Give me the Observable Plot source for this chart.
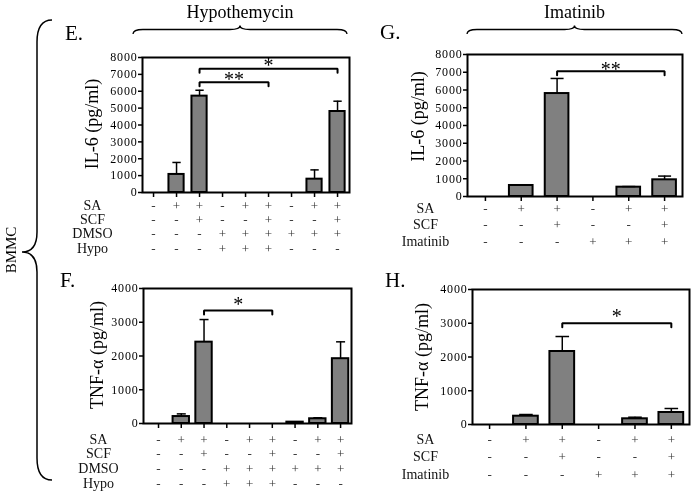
<!DOCTYPE html>
<html>
<head>
<meta charset="utf-8">
<script src="https://cdn.jsdelivr.net/npm/d3@7"></script>
<script src="https://cdn.jsdelivr.net/npm/@observablehq/plot@0.6"></script>
<style>
  html, body { margin: 0; padding: 0; background: #fff; }
  #chart { position: relative; width: 694px; height: 500px; background: #fff; font-family: "Liberation Serif", serif; }
  #chart > svg { position: absolute; will-change: transform; }
  #chart svg, #chart svg text { font-family: "Liberation Serif", "Times New Roman", serif !important; }
  [aria-label="y-axis tick label"] text { letter-spacing: 0.8px; }
</style>
</head>
<body>
<div id="chart"></div>
<script>
// ---------- data ----------
const hypoConditions = ["SA", "SCF", "DMSO", "Hypo"];
const hypoSA   = ["-", "+", "+", "-", "+", "+", "-", "+", "+"];
const hypoSCF  = ["-", "-", "+", "-", "-", "+", "-", "-", "+"];
const hypoDMSO = ["-", "-", "-", "+", "+", "+", "+", "+", "+"];
const hypoHypo = ["-", "-", "-", "+", "+", "+", "-", "-", "-"];

const il6Hypo    = [0, 1070, 5710, 0, 0, 0, 0, 790, 4800];
const il6HypoErr = [0, 1780, 6060, 0, 0, 0, 0, 1340, 5410];
const tnfHypo    = [0, 206, 2410, 0, 0, 0, 40, 140, 1920];
const tnfHypoErr = [0, 285, 3080, 0, 0, 0, 50, 170, 2420];

const imaConditions = ["SA", "SCF", "Imatinib"];
const imaSA  = ["-", "+", "+", "-", "+", "+"];
const imaSCF = ["-", "-", "+", "-", "-", "+"];
const imaIma = ["-", "-", "-", "+", "+", "+"];

const il6Ima    = [0, 620, 5800, 0, 525, 940];
const il6ImaErr = [0, 640, 6650, 0, 560, 1150];
const tnfIma    = [0, 246, 2163, 0, 169, 356];
const tnfImaErr = [0, 296, 2607, 0, 216, 474];

const il6Ticks = [0, 1000, 2000, 3000, 4000, 5000, 6000, 7000, 8000];
const tnfTicks = [0, 1000, 2000, 3000, 4000];

const bracketsE = [{from: 3, to: 9, level: 7330, label: "*"}, {from: 3, to: 6, level: 6540, label: "**"}];
const bracketsF = [{from: 3, to: 6, level: 3350, label: "*"}];
const bracketsG = [{from: 3, to: 6, level: 7060, label: "**"}];
const bracketsH = [{from: 3, to: 6, level: 3000, label: "*"}];

const il6Label = "IL-6 (pg/ml)";
const tnfLabel = "TNF-\u03b1 (pg/ml)";

// ---------- panel builder ----------
function panel(o) {
  const data = o.values.map((v, k) => ({i: k + 1, v, e: o.errors[k]}));
  const idx = data.map(d => d.i);
  const ymax = o.ticks[o.ticks.length - 1];
  const plotH = o.height - o.mt - o.mb;
  const drop = 4 * ymax / plotH;
  const capHalf = o.barHalf * 0.55;
  const bracketPts = o.brackets.flatMap((b, j) => [
    {j, x: b.from, y: b.level - drop}, {j, x: b.from, y: b.level},
    {j, x: b.to, y: b.level}, {j, x: b.to, y: b.level - drop}
  ]);
  const rowMarks = o.conditions.flatMap((c, r) => [
    Plot.text(o.signs[r].map((s, k) => ({i: k + 1, s})), {
      x: "i", text: "s", frameAnchor: "bottom", dy: o.rowDy0 + r * o.rowStep,
      fontSize: 13, fill: "#333"
    }),
    Plot.text([c], {
      frameAnchor: "bottom-left", dx: o.rowLabelDx, dy: o.rowDy0 + r * o.rowStep,
      textAnchor: "middle", fontSize: 14, fill: "#111"
    })
  ]);
  return Plot.plot({
    width: o.width, height: o.height,
    marginTop: o.mt, marginBottom: o.mb, marginLeft: o.ml, marginRight: o.mr,
    x: {type: "linear", domain: o.xdomain},
    y: {domain: [0, ymax], label: null},
    style: {fontFamily: "Liberation Serif", fontSize: "12px", background: "transparent", overflow: "visible", color: "black"},
    marks: [
      Plot.rectY(data.filter(d => d.v > 0), {
        x1: d => d.i - o.barHalf, x2: d => d.i + o.barHalf, y1: 0, y2: "v",
        fill: "#808080", stroke: "black", strokeWidth: 2
      }),
      Plot.ruleX(data.filter(d => d.e > d.v), {x: "i", y1: "v", y2: "e", stroke: "black", strokeWidth: 1.5}),
      Plot.link(data.filter(d => d.e > d.v), {
        x1: d => d.i - capHalf, x2: d => d.i + capHalf, y1: "e", y2: "e",
        stroke: "black", strokeWidth: 1.5
      }),
      Plot.line(bracketPts, {x: "x", y: "y", z: "j", stroke: "black", strokeWidth: 2, strokeLinejoin: "miter"}),
      Plot.text(o.brackets, {
        x: d => (d.from + d.to) / 2, y: "level", text: "label", dy: o.starDy,
        fontSize: 20, lineAnchor: "middle"
      }),
      Plot.axisY({ticks: o.ticks, tickSize: 4, tickPadding: 1, tickFormat: d => String(d), label: null, strokeWidth: 1.5, fontSize: 12}),
      Plot.axisX({ticks: idx, tickSize: 5, tickFormat: () => "", label: null, strokeWidth: 1.5}),
      Plot.frame({stroke: "black", strokeWidth: 2}),
      Plot.text([o.ylabel], {
        frameAnchor: "left", dx: o.labelDx, dy: o.labelDy, rotate: -90,
        textAnchor: "middle", lineAnchor: "middle", fontSize: 18
      }),
      ...rowMarks
    ]
  });
}

const chart = document.getElementById("chart");

const panels = [
  {left: 0, top: 0, cfg: {
    values: il6Hypo, errors: il6HypoErr, conditions: hypoConditions,
    signs: [hypoSA, hypoSCF, hypoDMSO, hypoHypo], ticks: il6Ticks, ylabel: il6Label,
    brackets: bracketsE, width: 355, height: 260, mt: 57, mb: 68, ml: 142, mr: 6,
    xdomain: [0.52, 9.52], barHalf: 0.33, rowDy0: 17, rowStep: 14.4, rowLabelDx: -50,
    labelDx: -50, labelDy: -1, starDy: -3
  }},
  {left: 0, top: 260, cfg: {
    values: tnfHypo, errors: tnfHypoErr, conditions: hypoConditions,
    signs: [hypoSA, hypoSCF, hypoDMSO, hypoHypo], ticks: tnfTicks, ylabel: tnfLabel,
    brackets: bracketsF, width: 355, height: 240, mt: 28, mb: 77, ml: 143, mr: 4,
    xdomain: [0.34, 9.48], barHalf: 0.36, rowDy0: 20, rowStep: 14.8, rowLabelDx: -45,
    labelDx: -46, labelDy: -1, starDy: -6
  }},
  {left: 355, top: 0, cfg: {
    values: il6Ima, errors: il6ImaErr, conditions: imaConditions,
    signs: [imaSA, imaSCF, imaIma], ticks: il6Ticks, ylabel: il6Label,
    brackets: bracketsG, width: 339, height: 260, mt: 54, mb: 64, ml: 112, mr: 12,
    xdomain: [0.5, 6.5], barHalf: 0.33, rowDy0: 16, rowStep: 16.5, rowLabelDx: -42,
    labelDx: -49, labelDy: -9, starDy: -2
  }},
  {left: 355, top: 260, cfg: {
    values: tnfIma, errors: tnfImaErr, conditions: imaConditions,
    signs: [imaSA, imaSCF, imaIma], ticks: tnfTicks, ylabel: tnfLabel,
    brackets: bracketsH, width: 339, height: 240, mt: 29, mb: 76, ml: 117, mr: 5,
    xdomain: [0.53, 6.5], barHalf: 0.34, rowDy0: 19, rowStep: 17.5, rowLabelDx: -47,
    labelDx: -50, labelDy: 0, starDy: -7
  }}
];

for (const p of panels) {
  const svg = panel(p.cfg);
  svg.style.left = p.left + "px";
  svg.style.top = p.top + "px";
  chart.appendChild(svg);
}

// ---------- decorations: group headers, braces, panel letters ----------
const groups = [
  {name: "Hypothemycin", x0: 133, x1: 347},
  {name: "Imatinib", x0: 467, x1: 682}
];
const letters = [
  {t: "E.", x: 65, y: 40}, {t: "F.", x: 60, y: 287},
  {t: "G.", x: 380, y: 39}, {t: "H.", x: 385, y: 287}
];

const deco = d3.create("svg")
  .attr("width", 694).attr("height", 500)
  .style("left", "0px").style("top", "0px").style("pointer-events", "none")
  .style("font-family", "Liberation Serif");

function hBrace(x0, x1, yEnd, yLine, yPeak) {
  const xm = (x0 + x1) / 2, r = 10;
  return `M${x0},${yEnd} Q${x0},${yLine} ${x0 + r},${yLine} L${xm - r},${yLine} Q${xm},${yLine} ${xm},${yPeak} ` +
         `Q${xm},${yLine} ${xm + r},${yLine} L${x1 - r},${yLine} Q${x1},${yLine} ${x1},${yEnd}`;
}

for (const g of groups) {
  deco.append("text").attr("x", (g.x0 + g.x1) / 2).attr("y", 18)
    .attr("text-anchor", "middle").attr("font-size", 18).text(g.name);
  deco.append("path").attr("d", hBrace(g.x0, g.x1, 34, 29.5, 25.5))
    .attr("fill", "none").attr("stroke", "black").attr("stroke-width", 1.3);
}

deco.append("path")
  .attr("d", "M52,20 Q37,20 37,42 L37,232 Q37,252 22,252 Q37,252 37,272 L37,458 Q37,480 52,480")
  .attr("fill", "none").attr("stroke", "black").attr("stroke-width", 1.5);

deco.append("text").attr("transform", "translate(16,250) rotate(-90)")
  .attr("text-anchor", "middle").attr("font-size", 15).text("BMMC");

for (const l of letters) {
  deco.append("text").attr("x", l.x).attr("y", l.y).attr("font-size", 21).text(l.t);
}

chart.appendChild(deco.node());
</script>
</body>
</html>
